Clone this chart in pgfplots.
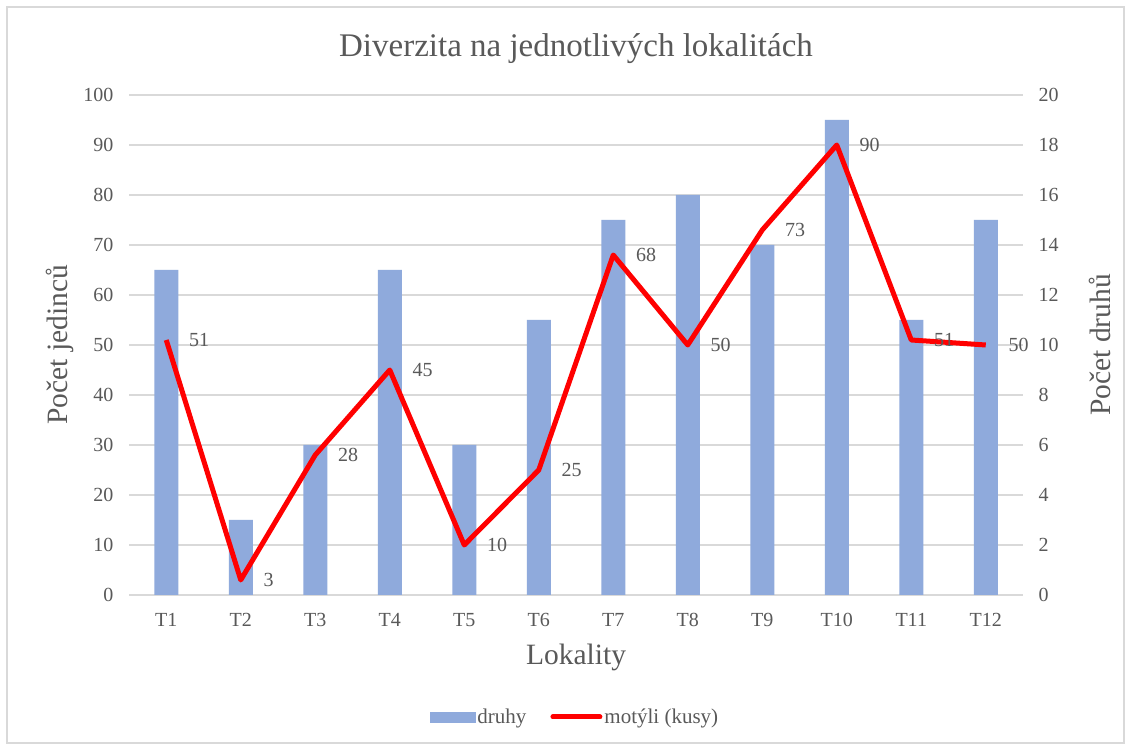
\documentclass[border=0pt]{standalone}
\usepackage{fontspec}
\setmainfont{Liberation Serif}
\usepackage{pgfplots}
\pgfplotsset{compat=1.18}
\definecolor{barblue}{HTML}{8FAADC}
\definecolor{txt}{HTML}{595959}
\definecolor{gridc}{HTML}{D9D9D9}
\begin{document}
\begin{tikzpicture}[x=1pt,y=1pt]
\useasboundingbox (0,0) rectangle (1130,749);
\fill[white] (0,0) rectangle (1130,749);
\draw[gridc, line width=1.5pt] (7,6) rectangle (1124,742);
\pgfplotsset{
  common/.style={
    at={(129pt,154pt)}, anchor=south west,
    scale only axis, width=894pt, height=500pt,
    xmin=0.5, xmax=12.5,
    axis line style={draw=none},
    major tick length=0pt,
    tick label style={font=\fontsize{20}{24}\selectfont, text=txt},
    /pgf/number format/assume math mode=true,
    label style={font=\fontsize{29.5}{34}\selectfont, text=txt},
  }
}
\begin{axis}[common,
  ybar, bar width=24pt,
  ymin=0, ymax=20, ytick={0,2,...,20},
  axis y line*=right, hide x axis,
  ymajorgrids, grid style={gridc, line width=1.3pt},
  yticklabel style={anchor=west, xshift=12pt},
  ylabel={Počet druhů},
  ylabel style={at={(axis description cs:1.086,0.5)}, anchor=center},
]
\addplot[fill=barblue, draw=none] coordinates {
(1,13) (2,3) (3,6) (4,13) (5,6) (6,11) (7,15) (8,16) (9,14) (10,19) (11,11) (12,15)};
\end{axis}
\begin{axis}[common,
  ymin=0, ymax=100, ytick={0,10,...,100},
  axis y line*=left, axis x line*=bottom,
  xtick={1,...,12}, xticklabels={T1,T2,T3,T4,T5,T6,T7,T8,T9,T10,T11,T12},
  yticklabel style={anchor=east, xshift=-12pt},
  xticklabel style={yshift=-15pt},
  title={Diverzita na jednotlivých lokalitách},
  title style={at={(axis description cs:0.5,1.08)}, anchor=center, font=\fontsize{33}{38}\selectfont, text=txt},
  xlabel={Lokality},
  xlabel style={at={(axis description cs:0.5,-0.124)}, anchor=center},
  ylabel={Počet jedinců},
  ylabel style={at={(axis description cs:-0.0772,0.5)}, anchor=center},
  legend columns=2,
  legend style={at={(axis description cs:0.499,-0.244)}, anchor=center, draw=none, fill=none,
    font=\fontsize{21}{25}\selectfont, text=txt,
    /tikz/every even column/.append style={column sep=22pt}},
]
\addlegendimage{legend image code/.code={\fill[barblue] (0pt,-5pt) rectangle (45pt,5pt);}}
\addlegendentry{druhy}
\addplot[red, line width=5pt, line join=round,
  legend image code/.code={\draw[red, line width=5pt, line cap=round] (0pt,0pt) -- (47pt,0pt);},
  nodes near coords,
  every node near coord/.append style={anchor=west, xshift=17pt, text=txt, font=\fontsize{20}{24}\selectfont}]
coordinates {
(1,51) (2,3) (3,28) (4,45) (5,10) (6,25) (7,68) (8,50) (9,73) (10,90) (11,51) (12,50)};
\addlegendentry{motýli (kusy)}
\end{axis}
\end{tikzpicture}
\end{document}
